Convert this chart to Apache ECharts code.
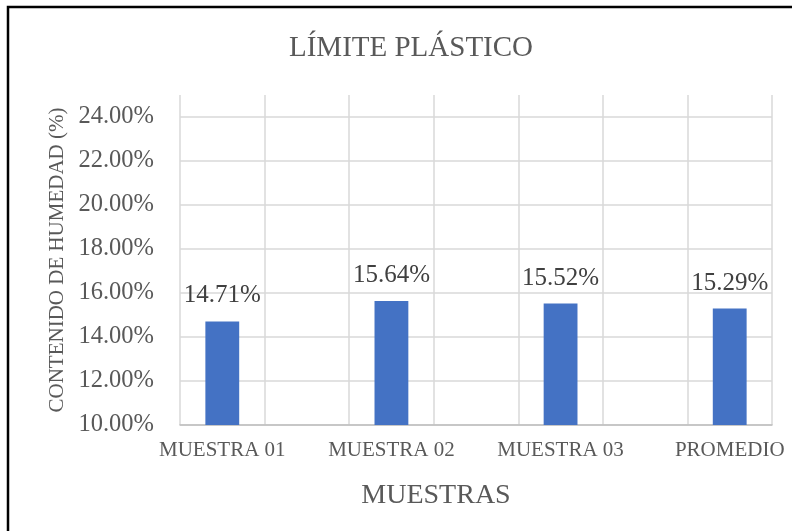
<!DOCTYPE html>
<html>
<head>
<meta charset="utf-8">
<script src="https://cdn.jsdelivr.net/npm/echarts@6/dist/echarts.min.js"></script>
<style>html,body{margin:0;padding:0;background:#fff;}#c{width:792px;height:531px;}</style>
</head>
<body>
<div id="c"></div>
<script>
const categories = ['MUESTRA 01', 'MUESTRA 02', 'MUESTRA 03', 'PROMEDIO'];
const values = [14.71, 15.64, 15.52, 15.29];
const yTicks = [10, 12, 14, 16, 18, 20, 22, 24];

// Excel-like layout: each category followed by an empty slot
const slotCats = [];
const slotVals = [];
categories.forEach((c, i) => {
  slotCats.push(c); slotVals.push(values[i]);
  if (i < categories.length - 1) { slotCats.push(''); slotVals.push(null); }
});

const FONT = '"Liberation Serif", "Times New Roman", serif';
const TXT = '#595959';
const chart = echarts.init(document.getElementById('c'), null, {renderer: 'canvas'});
chart.setOption({
  animation: false,
  backgroundColor: '#fff',
  title: [
    {text: 'LÍMITE PLÁSTICO', left: 406, top: 29, textAlign: 'center',
     textStyle: {fontFamily: FONT, fontSize: 29, fontWeight: 'normal', color: TXT}},
    {text: 'MUESTRAS', left: 431, top: 477, textAlign: 'center',
     textStyle: {fontFamily: FONT, fontSize: 28, fontWeight: 'normal', color: TXT}}
  ],
  graphic: [
    {type: 'rect', shape: {x: 8, y: 7, width: 800, height: 540}, z: -1,
     style: {fill: 'none', stroke: '#000', lineWidth: 2.5}}
  ],
  grid: {left: 180, right: 20, top: 95, bottom: 106},
  xAxis: {
    type: 'category', data: slotCats,
    axisLine: {show: true, lineStyle: {color: '#bfbfbf', width: 1.5}},
    axisTick: {show: false},
    axisLabel: {interval: 0, fontFamily: FONT, fontSize: 21, color: TXT, margin: 15},
    splitLine: {show: true, interval: 0, lineStyle: {color: '#d9d9d9', width: 1.5}}
  },
  yAxis: {
    type: 'value', min: 10, max: 25, interval: 2,
    name: 'CONTENIDO DE HUMEDAD (%)', nameLocation: 'middle', nameGap: 112,
    nameTextStyle: {fontFamily: FONT, fontSize: 21, color: TXT},
    axisLine: {show: false}, axisTick: {show: false},
    axisLabel: {fontFamily: FONT, fontSize: 24.5, color: TXT, margin: 26,
      formatter: v => yTicks.indexOf(v) >= 0 ? v.toFixed(2) + '%' : ''},
    splitLine: {show: true, showMaxLine: false, lineStyle: {color: '#d9d9d9', width: 1.5}}
  },
  series: [{
    type: 'bar', data: slotVals, barWidth: '40%',
    itemStyle: {color: '#4472c4'},
    label: {show: true, position: 'top', distance: 13, fontFamily: FONT, fontSize: 25, color: '#404040',
      formatter: p => p.value.toFixed(2) + '%'}
  }]
});
</script>
</body>
</html>
